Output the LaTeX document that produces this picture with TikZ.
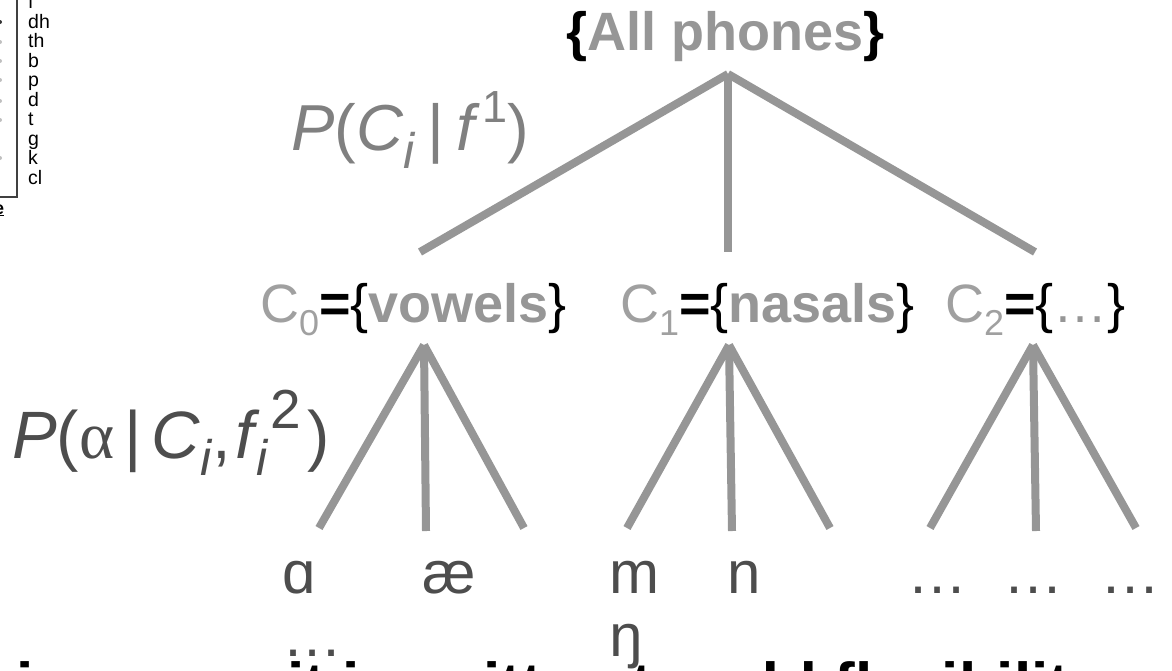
\documentclass[tikz,border=0pt]{standalone}
\usepackage{fontspec}
\setmainfont{Liberation Sans}
\newfontfamily\alphafont{Liberation Serif}
\definecolor{linegray}{HTML}{969696}
\definecolor{clsgray}{HTML}{A0A0A0}
\definecolor{midgray}{HTML}{808080}
\definecolor{darkgray}{HTML}{4D4D4D}
\newcommand{\subi}[2]{\raisebox{#1}{\fontsize{#2}{#2}\selectfont\textit{i}}}
\newcommand{\clslabel}[2]{{\color{clsgray}C\raisebox{-13pt}{\fontsize{36}{36}\selectfont #1}}{\bfseries =}\{{\color{linegray}#2}\}}
\begin{document}
\begin{tikzpicture}[x=1pt,y=-1pt,
  txt/.style={inner sep=0pt, anchor=base west},
  branch/.style={draw=linegray, line width=8pt},
  leaf/.style={txt, text=darkgray, font=\fontsize{60}{60}\selectfont},
  cls/.style={txt, font=\fontsize{54}{54}\selectfont},
  listitem/.style={txt, font=\fontsize{19.5}{19.5}\selectfont}]
\useasboundingbox (0,0) rectangle (1172,670);
\clip (0,0) rectangle (1172,670);

% top-left fragment
\draw[line width=1.2pt, black!75] (-5,-5) -- (17,-5) -- (17,197) -- (-5,197);
\foreach \yy/\c in {22/black!80,42/black!25,61/black!25,80/black!25,101/black!25,120/black!25,158/black!25}
  \fill[\c] (0,\yy) circle (2pt);
\foreach \t [count=\i from 0] in {f,dh,th,b,p,d,t,g,k,cl}
  \node[listitem] (item\i) at (28,8.5+19.5*\i) {\t};
\node[txt, font=\fontsize{18}{18}\selectfont\bfseries] (frag) at (-6,214) {\underline{e}};

% root
\node[txt, font=\fontsize{54}{54}\selectfont\bfseries, text=linegray] (all) at (566,50)
  {{\color{black}\{}All phones{\color{black}\}}};
\coordinate (root) at (728,74);

% classes
\node[cls] (c0) at (260,322) {\clslabel{0}{\bfseries vowels}};
\node[cls] (c1) at (620,322) {\clslabel{1}{\bfseries nasals}};
\node[cls] (c2) at (945,322) {\clslabel{2}{\mdseries\ldots}};
\coordinate (t0) at (420,252);
\coordinate (t1) at (728,252);
\coordinate (t2) at (1035,252);
\draw[branch] (root) -- (t0);
\draw[branch] (root) -- (t1);
\draw[branch] (root) -- (t2);

% first-level probability
\node[txt, text=midgray, font=\fontsize{65}{65}\selectfont] (p1) at (291,150)
  {\textit{P}(\textit{C}\subi{-18pt}{50}\hspace{12pt}|\hspace{12pt}\textit{f}\hspace{2pt}\raisebox{28pt}{\fontsize{45}{45}\selectfont 1})};

% second-level probability
\node[txt, text=darkgray, font=\fontsize{67}{67}\selectfont] (p2) at (12,458)
  {\textit{P}({\alphafont α}\hspace{10pt}|\hspace{10pt}\textit{C}\subi{-17pt}{50},\hspace{4pt}\textit{f}\hspace{-3pt}\subi{-17pt}{50}\hspace{2pt}\raisebox{30pt}{\fontsize{55}{55}\selectfont 2}\hspace{6pt})};

% sub-trees
\foreach \n/\ax/\l/\m/\r in {0/424/319/426/524, 1/729/627/732/830, 2/1033/930/1036/1136}{
  \coordinate (a\n) at (\ax,345);
  \coordinate (la\n) at (\l,528);
  \coordinate (lb\n) at (\m,531);
  \coordinate (lc\n) at (\r,528);
  \draw[branch] (a\n) -- (la\n);
  \draw[branch] (a\n) -- (lb\n);
  \draw[branch] (a\n) -- (lc\n);
}

% leaves
\node[leaf] (alpha) at (282,593) {ɑ};
\node[leaf] (ae) at (422,593) {æ};
\node[leaf] (m) at (609,593) {m};
\node[leaf] (n) at (727,593) {n};
\node[leaf] (d1) at (907,593) {…};
\node[leaf] (d2) at (1003,593) {…};
\node[leaf] (d3) at (1100,593) {…};
\node[leaf] (d4) at (282,656) {…};
\node[leaf] (eng) at (609,656) {ŋ};

% bottom line (cut off by the frame)
\node[txt, font=\fontsize{62}{62}\selectfont\bfseries] (bottom) at (16,706)
  {in a way, it is written to add flexibility};
\end{tikzpicture}
\end{document}
